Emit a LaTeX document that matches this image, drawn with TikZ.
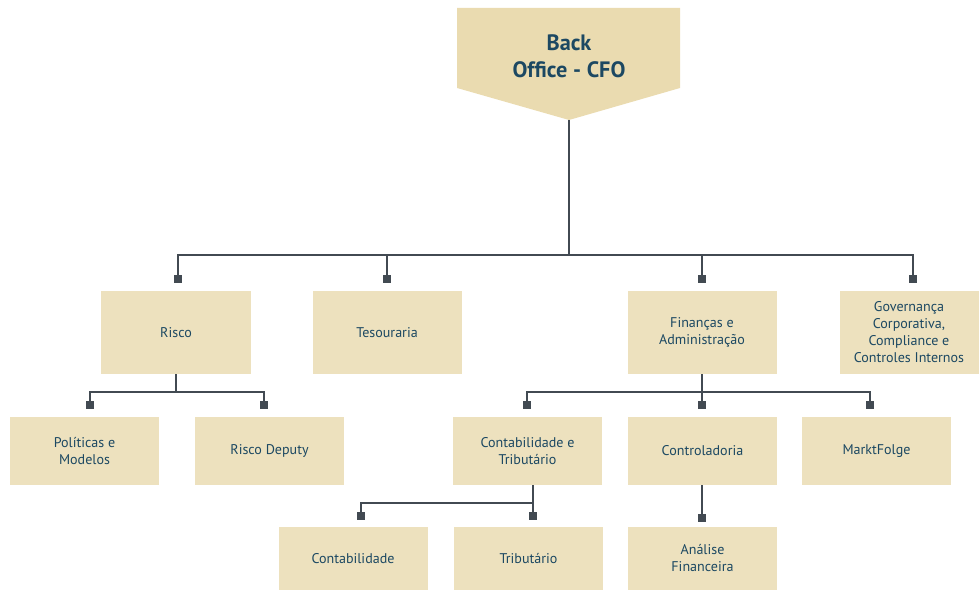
\documentclass[tikz,border=0pt]{standalone}
\usepackage{fontspec}
\setmainfont{PT Sans}
\definecolor{orgFill}{RGB}{237,225,190}
\definecolor{orgTop}{RGB}{234,219,176}
\definecolor{orgText}{RGB}{28,72,98}
\definecolor{orgLine}{RGB}{66,74,82}
\newcommand{\BW}{4.47cm}
\newcommand{\HA}{2.49cm}
\newcommand{\HB}{2.04cm}
\newcommand{\HC}{1.89cm}

\begin{document}
\begin{tikzpicture}[
    x=0.03cm, y=-0.03cm,
    wire/.style={draw=orgLine, line width=1.6pt},
    unitbox/.style={rectangle, fill=orgFill, minimum width=\BW, inner sep=2pt,
      align=center, text=orgText, font=\fontsize{12}{14.5}\selectfont},
    plug/.style={rectangle, fill=orgLine, minimum size=0.25cm, inner sep=0pt},
  ]
  \useasboundingbox (0,0) rectangle (979,590);

  % head of the chart
  \fill[orgTop] (457,8) -- (680,8) -- (680,88) -- (569,120) -- (457,88) -- cycle;
  \node[text=orgText, align=center, font=\fontsize{19}{23}\selectfont\bfseries] (cfo) at (569,56) {Back\\Office - CFO};
  \coordinate (cfotip) at (569,120);

  % first level
  \node[unitbox, minimum height=\HA] (risco)      at (176,332.5) {Risco};
  \node[unitbox, minimum height=\HA] (tesouraria) at (387,332.5) {Tesouraria};
  \node[unitbox, minimum height=\HA] (financas)   at (702,332.5) {Finanças e\\Administração};
  \node[unitbox, minimum height=\HA, minimum width=4.17cm] (governanca) at (909,332.5)
    {Governança\\Corporativa,\\Compliance e\\Controles Internos};

  % second level
  \node[unitbox, minimum height=\HB] (politicas)     at (84.5,451)  {Políticas e\\Modelos};
  \node[unitbox, minimum height=\HB] (deputy)        at (269.5,451) {Risco Deputy};
  \node[unitbox, minimum height=\HB] (contrib)       at (527.5,451) {Contabilidade e\\Tributário};
  \node[unitbox, minimum height=\HB] (controladoria) at (702.5,451) {Controladoria};
  \node[unitbox, minimum height=\HB] (markt)         at (876.5,451) {MarktFolge};

  % third level
  \node[unitbox, minimum height=\HC] (contab)     at (353,558.5)   {Contabilidade};
  \node[unitbox, minimum height=\HC] (tributario) at (528.5,558.5) {Tributário};
  \node[unitbox, minimum height=\HC] (analise)    at (702.5,558.5) {Análise\\Financeira};

  % markers above the boxes
  \node[plug] (pRisco) at (178,279) {};
  \node[plug] (pTes)   at (387,279) {};
  \node[plug] (pFin)   at (702,279) {};
  \node[plug] (pGov)   at (913,279) {};
  \node[plug] (pPol)   at (90,405)  {};
  \node[plug] (pDep)   at (264,405) {};
  \node[plug] (pCT)    at (527,405) {};
  \node[plug] (pCtrl)  at (702,405) {};
  \node[plug] (pMkt)   at (870,405) {};
  \node[plug] (pCont)  at (361,516) {};
  \node[plug] (pTrib)  at (533,516) {};
  \node[plug] (pAna)   at (702,518) {};

  % buses
  \coordinate (busTop) at (569,255);
  \coordinate (busR)   at (176,392);
  \coordinate (busF)   at (702,392);
  \coordinate (busC)   at (533,503);

  \draw[wire] (cfotip) -- (busTop);
  \foreach \p in {pRisco,pTes,pFin,pGov} { \draw[wire] (busTop) -| (\p); }
  \draw[wire] (risco.south) -- (busR);
  \foreach \p in {pPol,pDep} { \draw[wire] (busR) -| (\p); }
  \draw[wire] (busF |- financas.south) -- (busF);
  \foreach \p in {pCT,pCtrl,pMkt} { \draw[wire] (busF) -| (\p); }
  \draw[wire] (busC |- contrib.south) -- (busC);
  \foreach \p in {pCont,pTrib} { \draw[wire] (busC) -| (\p); }
  \draw[wire] (pAna |- controladoria.south) -- (pAna);

\end{tikzpicture}
\end{document}
